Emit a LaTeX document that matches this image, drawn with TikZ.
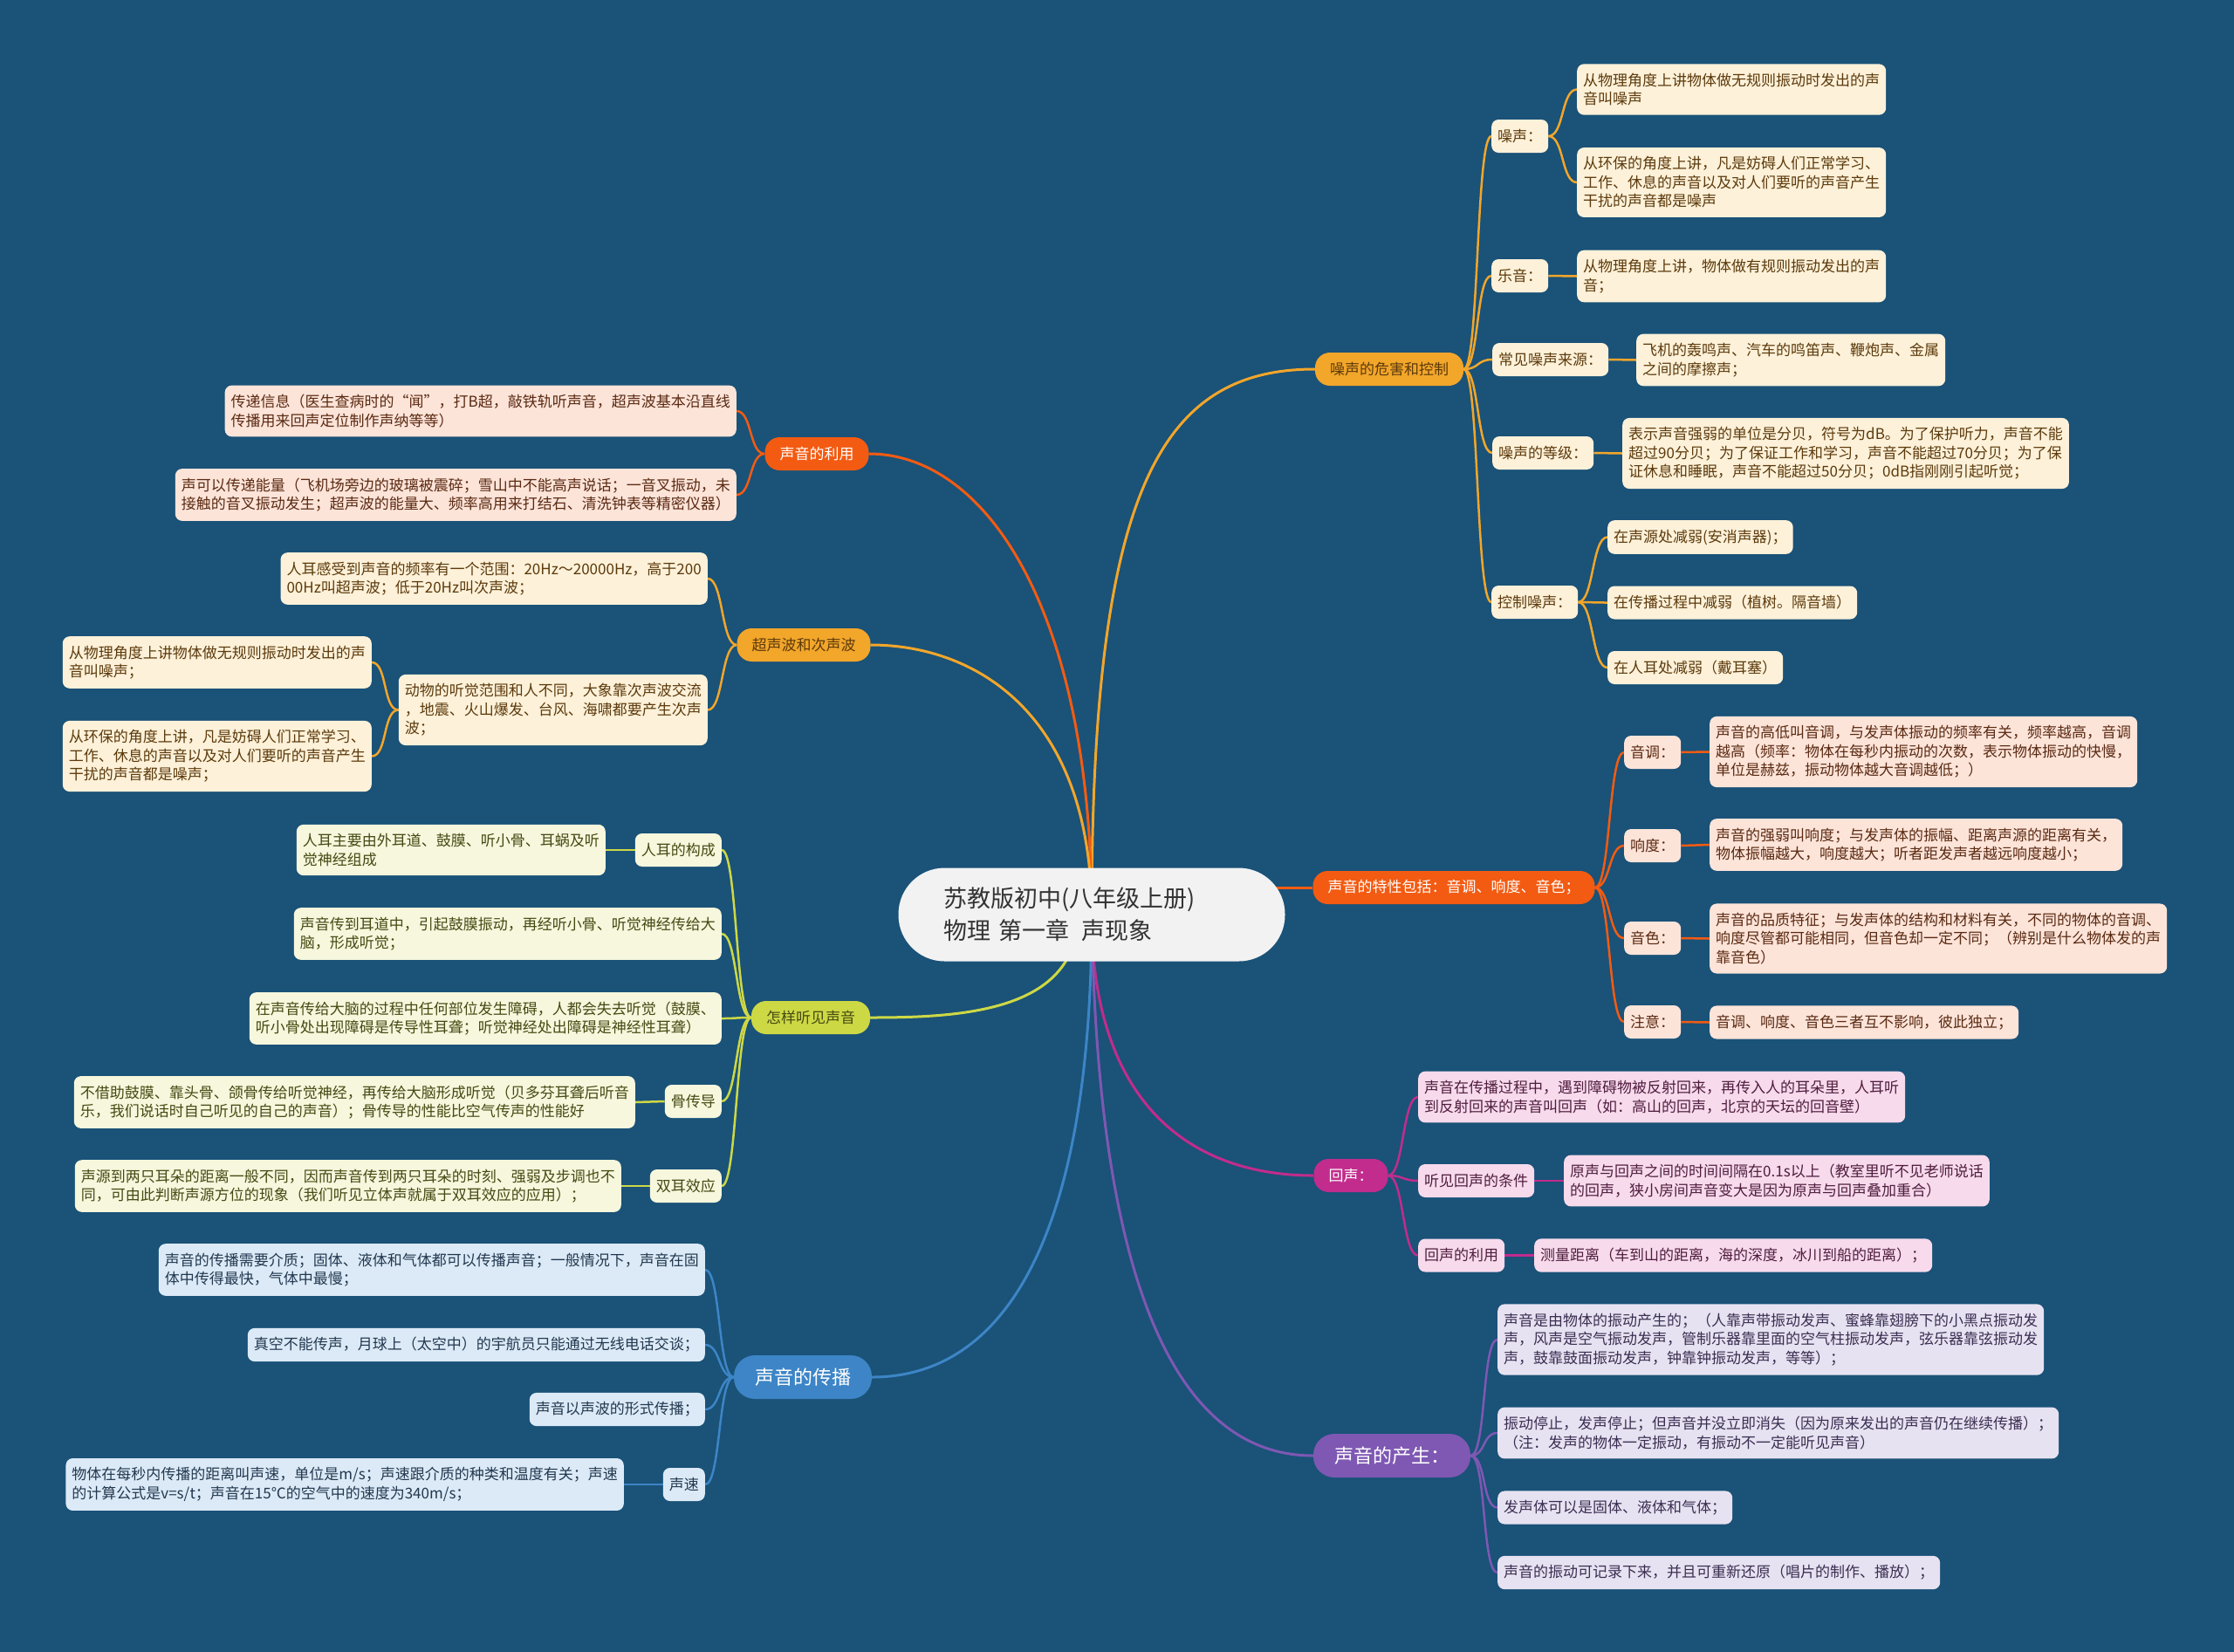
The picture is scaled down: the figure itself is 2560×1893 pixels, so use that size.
\documentclass[tikz,border=0pt]{standalone}
\usepackage{fontspec}
\setmainfont{Noto Sans CJK SC}
\usetikzlibrary{positioning, backgrounds}
\definecolor{bgc}{HTML}{1A5278}
\definecolor{rootF}{HTML}{F2F2F2}
\definecolor{rootT}{HTML}{333333}
\definecolor{ambC}{HTML}{F2A62A}
\definecolor{ambL}{HTML}{FDF1D9}
\definecolor{ambT}{HTML}{5C3A0C}
\definecolor{oraC}{HTML}{F35B12}
\definecolor{oraL}{HTML}{FDE4D9}
\definecolor{oraT}{HTML}{5A2A12}
\definecolor{ygC}{HTML}{CDD845}
\definecolor{ygL}{HTML}{F6F7DD}
\definecolor{ygT}{HTML}{454A12}
\definecolor{bluC}{HTML}{3D85C6}
\definecolor{bluL}{HTML}{DCEAF7}
\definecolor{bluT}{HTML}{22384F}
\definecolor{magC}{HTML}{C22C8C}
\definecolor{magL}{HTML}{F7DAEC}
\definecolor{magT}{HTML}{4F1D3D}
\definecolor{purC}{HTML}{7E58B3}
\definecolor{purL}{HTML}{E7E2F1}
\definecolor{purT}{HTML}{3A2E52}
\newcommand\leaffont{\fontsize{17}{21.5}\selectfont}
\newcommand\bigfont{\fontsize{22}{26}\selectfont}
\newcommand\rootfont{\fontsize{27}{37}\selectfont}

\begin{document}
\begin{tikzpicture}[
        x=1pt, y=-1pt, font=\leaffont,
        leaf/.style={rounded corners=8pt, align=left, inner xsep=7pt, inner ysep=10.5pt, minimum height=38pt},
        topic/.style={rounded corners=17pt, inner xsep=17pt, minimum height=38pt},
        bigtopic/.style={rounded corners=24pt, inner xsep=24pt, minimum height=50pt, font=\bigfont},
        root/.style={fill=rootF, text=rootT, rounded corners=53pt, minimum width=443pt, minimum height=107pt, text width=340pt, align=left, font=\rootfont},
        amb/.style={fill=ambL, text=ambT}, ambtop/.style={fill=ambC, text=ambT},
        ora/.style={fill=oraL, text=oraT}, oratop/.style={fill=oraC, text=white},
        yg/.style={fill=ygL, text=ygT},    ygtop/.style={fill=ygC, text=ygT},
        blu/.style={fill=bluL, text=bluT}, blutop/.style={fill=bluC, text=white},
        mag/.style={fill=magL, text=magT}, magtop/.style={fill=magC, text=white},
        pur/.style={fill=purL, text=purT}, purtop/.style={fill=purC, text=white},
        ambline/.style={draw=ambC, line width=2.5pt},
        oraline/.style={draw=oraC, line width=2.5pt},
        ygline/.style={draw=ygC, line width=2.5pt},
        bluline/.style={draw=bluC, line width=2.5pt},
        magline/.style={draw=magC, line width=2.5pt},
        purline/.style={draw=purC, line width=2.5pt},
        rlink/.style={to path={.. controls +(18,0) and +(-18,0) .. (\tikztotarget)}},
        llink/.style={to path={.. controls +(-18,0) and +(18,0) .. (\tikztotarget)}}
    ]
        \useasboundingbox (0,0) rectangle (2560,1893);

        \node[root] (root) at (1251,1048) {苏教版初中(八年级上册)\\物理 第一章\hspace{6pt} 声现象};

        % right side
        \node[topic, ambtop] (noise) at (1592,423) {噪声的危害和控制};
        \node[leaf, amb, anchor=west] (n1) at (1709,156) {噪声：};
        \node[leaf, amb, anchor=west] (n1a) at (1807,102.5) {从物理角度上讲物体做无规则振动时发出的声\\音叫噪声};
        \node[leaf, amb, anchor=west] (n1b) at (1807,209) {从环保的角度上讲，凡是妨碍人们正常学习、\\工作、休息的声音以及对人们要听的声音产生\\干扰的声音都是噪声};
        \node[leaf, amb, anchor=west] (n2) at (1709,316) {乐音：};
        \node[leaf, amb, anchor=west] (n2a) at (1807,316.5) {从物理角度上讲，物体做有规则振动发出的声\\音；};
        \node[leaf, amb, anchor=west] (n3) at (1710,412) {常见噪声来源：};
        \node[leaf, amb, anchor=west] (n3a) at (1875,412.5) {飞机的轰鸣声、汽车的鸣笛声、鞭炮声、金属\\之间的摩擦声；};
        \node[leaf, amb, anchor=west] (n4) at (1710,519) {噪声的等级：};
        \node[leaf, amb, anchor=west] (n4a) at (1859,519.5) {表示声音强弱的单位是分贝，符号为dB。为了保护听力，声音不能\\超过90分贝；为了保证工作和学习，声音不能超过70分贝；为了保\\证休息和睡眠，声音不能超过50分贝；0dB指刚刚引起听觉；};
        \node[leaf, amb, anchor=west] (n5) at (1709,690) {控制噪声：};
        \node[leaf, amb, anchor=west] (n5a) at (1842,615.5) {在声源处减弱(安消声器)；};
        \node[leaf, amb, anchor=west] (n5b) at (1842,690.5) {在传播过程中减弱（植树。隔音墙）};
        \node[leaf, amb, anchor=west] (n5c) at (1842,765) {在人耳处减弱（戴耳塞）};

        \node[topic, oratop] (spec) at (1666,1017) {声音的特性包括：音调、响度、音色；};
        \node[leaf, ora, anchor=west] (s1) at (1861,862) {音调：};
        \node[leaf, ora, anchor=west] (s1a) at (1959,861.5) {声音的高低叫音调，与发声体振动的频率有关，频率越高，音调\\越高（频率：物体在每秒内振动的次数，表示物体振动的快慢，\\单位是赫兹，振动物体越大音调越低；）};
        \node[leaf, ora, anchor=west] (s2) at (1861,969) {响度：};
        \node[leaf, ora, anchor=west] (s2a) at (1959,968) {声音的强弱叫响度；与发声体的振幅、距离声源的距离有关，\\物体振幅越大，响度越大；听者距发声者越远响度越小；};
        \node[leaf, ora, anchor=west] (s3) at (1861,1075) {音色：};
        \node[leaf, ora, anchor=west] (s3a) at (1959,1075.5) {声音的品质特征；与发声体的结构和材料有关，不同的物体的音调、\\响度尽管都可能相同，但音色却一定不同；（辨别是什么物体发的声\\靠音色）};
        \node[leaf, ora, anchor=west] (s4) at (1861,1171) {注意：};
        \node[leaf, ora, anchor=west] (s4a) at (1959,1171.5) {音调、响度、音色三者互不影响，彼此独立；};

        \node[topic, magtop] (echo) at (1548,1347) {回声：};
        \node[leaf, mag, anchor=west] (e1) at (1625,1257) {声音在传播过程中，遇到障碍物被反射回来，再传入人的耳朵里，人耳听\\到反射回来的声音叫回声（如：高山的回声，北京的天坛的回音壁）};
        \node[leaf, mag, anchor=west] (e2) at (1625,1353) {听见回声的条件};
        \node[leaf, mag, anchor=west] (e2a) at (1792,1353) {原声与回声之间的时间间隔在0.1s以上（教室里听不见老师说话\\的回声，狭小房间声音变大是因为原声与回声叠加重合）};
        \node[leaf, mag, anchor=west] (e3) at (1625,1438.5) {回声的利用};
        \node[leaf, mag, anchor=west] (e3a) at (1758,1438.5) {测量距离（车到山的距离，海的深度，冰川到船的距离）；};

        \node[bigtopic, purtop] (prod) at (1595,1668) {声音的产生：};
        \node[leaf, pur, anchor=west] (p1) at (1716,1535) {声音是由物体的振动产生的；（人靠声带振动发声、蜜蜂靠翅膀下的小黑点振动发\\声，风声是空气振动发声，管制乐器靠里面的空气柱振动发声，弦乐器靠弦振动发\\声，鼓靠鼓面振动发声，钟靠钟振动发声，等等）；};
        \node[leaf, pur, anchor=west] (p2) at (1716,1642) {振动停止，发声停止；但声音并没立即消失（因为原来发出的声音仍在继续传播）；\\（注：发声的物体一定振动，有振动不一定能听见声音）};
        \node[leaf, pur, anchor=west] (p3) at (1716,1727.5) {发声体可以是固体、液体和气体；};
        \node[leaf, pur, anchor=west] (p4) at (1716,1802) {声音的振动可记录下来，并且可重新还原（唱片的制作、播放）；};

        % left side
        \node[topic, oratop] (use) at (936,520) {声音的利用};
        \node[leaf, ora, anchor=east] (u1) at (844,471) {传递信息（医生查病时的“闻”，打B超，敲铁轨听声音，超声波基本沿直线\\传播用来回声定位制作声纳等等）};
        \node[leaf, ora, anchor=east] (u2) at (844,567) {声可以传递能量（飞机场旁边的玻璃被震碎；雪山中不能高声说话；一音叉振动，未\\接触的音叉振动发生；超声波的能量大、频率高用来打结石、清洗钟表等精密仪器）};

        \node[topic, ambtop] (ultra) at (921,739) {超声波和次声波};
        \node[leaf, amb, anchor=east] (w1) at (811,663) {人耳感受到声音的频率有一个范围：20Hz～20000Hz，高于200\\00Hz叫超声波；低于20Hz叫次声波；};
        \node[leaf, amb, anchor=east] (w2) at (811,813.5) {动物的听觉范围和人不同，大象靠次声波交流\\，地震、火山爆发、台风、海啸都要产生次声\\波；};
        \node[leaf, amb, anchor=east] (w2a) at (426,759) {从物理角度上讲物体做无规则振动时发出的声\\音叫噪声；};
        \node[leaf, amb, anchor=east] (w2b) at (426,866.5) {从环保的角度上讲，凡是妨碍人们正常学习、\\工作、休息的声音以及对人们要听的声音产生\\干扰的声音都是噪声；};

        \node[topic, ygtop] (hear) at (929,1166) {怎样听见声音};
        \node[leaf, yg, anchor=east] (h1) at (827,974) {人耳的构成};
        \node[leaf, yg, anchor=east] (h1a) at (694,974) {人耳主要由外耳道、鼓膜、听小骨、耳蜗及听\\觉神经组成};
        \node[leaf, yg, anchor=east] (h2) at (827,1070) {声音传到耳道中，引起鼓膜振动，再经听小骨、听觉神经传给大\\脑，形成听觉；};
        \node[leaf, yg, anchor=east] (h3) at (827,1167) {在声音传给大脑的过程中任何部位发生障碍，人都会失去听觉（鼓膜、\\听小骨处出现障碍是传导性耳聋；听觉神经处出障碍是神经性耳聋）};
        \node[leaf, yg, anchor=east] (h4) at (827,1262) {骨传导};
        \node[leaf, yg, anchor=east] (h4a) at (728,1263) {不借助鼓膜、靠头骨、颌骨传给听觉神经，再传给大脑形成听觉（贝多芬耳聋后听音\\乐，我们说话时自己听见的自己的声音）；骨传导的性能比空气传声的性能好};
        \node[leaf, yg, anchor=east] (h5) at (827,1359) {双耳效应};
        \node[leaf, yg, anchor=east] (h5a) at (712,1359) {声源到两只耳朵的距离一般不同，因而声音传到两只耳朵的时刻、强弱及步调也不\\同，可由此判断声源方位的现象（我们听见立体声就属于双耳效应的应用）；};

        \node[bigtopic, blutop] (spread) at (920,1578) {声音的传播};
        \node[leaf, blu, anchor=east] (b1) at (808,1455) {声音的传播需要介质；固体、液体和气体都可以传播声音；一般情况下，声音在固\\体中传得最快，气体中最慢；};
        \node[leaf, blu, anchor=east] (b2) at (808,1541) {真空不能传声，月球上（太空中）的宇航员只能通过无线电话交谈；};
        \node[leaf, blu, anchor=east] (b3) at (808,1615) {声音以声波的形式传播；};
        \node[leaf, blu, anchor=east] (b4) at (808,1701) {声速};
        \node[leaf, blu, anchor=east] (b4a) at (715,1701) {物体在每秒内传播的距离叫声速，单位是m/s；声速跟介质的种类和温度有关；声速\\的计算公式是v=s/t；声音在15℃的空气中的速度为340m/s；};

        \begin{scope}[on background layer]
            \fill[bgc] (0,0) rectangle (2560,1893);
            % branches from the root
            \draw[ambC, line width=3pt] (root.center) .. controls (1251,560) and (1330,423) .. (noise.west);
            \draw[oraC, line width=3pt] (root.center) .. controls (1251,700) and (1130,520) .. (use.east);
            \draw[ambC, line width=3pt] (root.center) .. controls (1251,820) and (1120,739) .. (ultra.east);
            \draw[oraC, line width=3pt] (root.center |- spec.west) -- (spec.west);
            \draw[ygC, line width=3pt] ([xshift=-16pt]root.center) .. controls (1235,1160) and (1100,1166) .. (hear.east);
            \draw[bluC, line width=3pt] (root.center) .. controls (1251,1420) and (1150,1578) .. (spread.east);
            \draw[magC, line width=3pt] (root.center) .. controls (1251,1260) and (1360,1347) .. (echo.west);
            \draw[purC, line width=3pt] (root.center) .. controls (1258,1500) and (1360,1668) .. (prod.west);

            % right groups
            \foreach \c in {n1,n2,n3,n4,n5} \draw[ambline, rlink] (noise.east) to (\c.west);
            \foreach \c in {n1a,n1b} \draw[ambline, rlink] (n1.east) to (\c.west);
            \foreach \c/\d in {n2/n2a,n3/n3a,n4/n4a} \draw[ambline] (\c.east) -- (\d.west);
            \foreach \c in {n5a,n5b,n5c} \draw[ambline, rlink] (n5.east) to (\c.west);
            \foreach \c in {s1,s2,s3,s4} \draw[oraline, rlink] (spec.east) to (\c.west);
            \foreach \c/\d in {s1/s1a,s2/s2a,s3/s3a,s4/s4a} \draw[oraline] (\c.east) -- (\d.west);
            \foreach \c in {e1,e2,e3} \draw[magline, rlink] (echo.east) to (\c.west);
            \foreach \c/\d in {e2/e2a,e3/e3a} \draw[magline] (\c.east) -- (\d.west);
            \foreach \c in {p1,p2,p3,p4} \draw[purline, rlink] (prod.east) to (\c.west);

            % left groups
            \foreach \c in {u1,u2} \draw[oraline, llink] (use.west) to (\c.east);
            \foreach \c in {w1,w2} \draw[ambline, llink] (ultra.west) to (\c.east);
            \foreach \c in {w2a,w2b} \draw[ambline, llink] (w2.west) to (\c.east);
            \foreach \c in {h1,h2,h3,h4,h5} \draw[ygline, llink] (hear.west) to (\c.east);
            \foreach \c/\d in {h1/h1a,h4/h4a,h5/h5a} \draw[ygline] (\c.west) -- (\d.east);
            \foreach \c in {b1,b2,b3,b4} \draw[bluline, llink] (spread.west) to (\c.east);
            \draw[bluline] (b4.west) -- (b4a.east);
        \end{scope}
    \end{tikzpicture}
\end{document}
